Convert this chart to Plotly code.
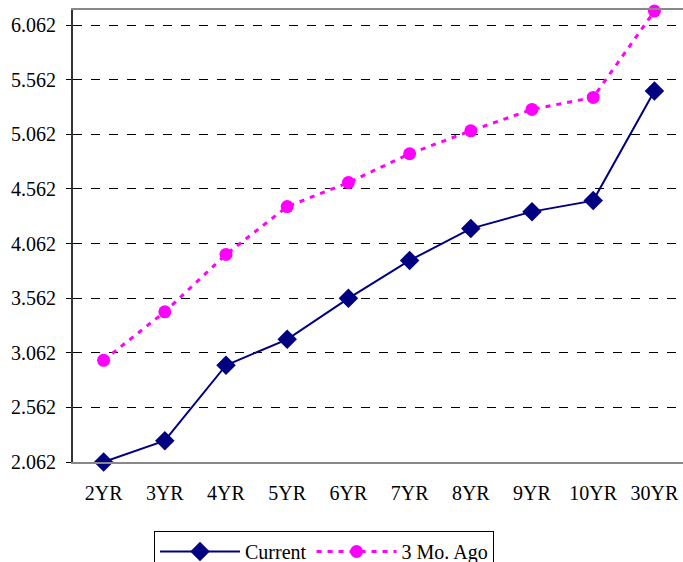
import plotly.graph_objects as go

categories = ["2YR", "3YR", "4YR", "5YR", "6YR", "7YR", "8YR", "9YR", "10YR", "30YR"]
current = [2.062, 2.257, 2.948, 3.185, 3.560, 3.907, 4.199, 4.354, 4.455, 5.459]
three_mo_ago = [2.993, 3.437, 3.962, 4.400, 4.620, 4.884, 5.094, 5.290, 5.400, 6.190]
y_ticks = [2.062, 2.562, 3.062, 3.562, 4.062, 4.562, 5.062, 5.562, 6.062]

FONT = "Times New Roman, Liberation Serif, serif"

fig = go.Figure()
fig.add_trace(go.Scatter(
    x=list(range(len(categories))), y=current, name="Current", mode="lines+markers",
    line=dict(color="#000080", width=2),
    marker=dict(symbol="diamond", size=15, color="#000080"),
    cliponaxis=False,
))
fig.add_trace(go.Scatter(
    x=list(range(len(categories))), y=three_mo_ago, name="3 Mo. Ago", mode="lines+markers",
    line=dict(color="#FF00FF", width=3, dash="5px,6px"),
    marker=dict(symbol="circle", size=13, color="#FF00FF"),
    cliponaxis=False,
))

H = 562
T = 10
paper_h = H - T
plot_bottom_px = 462
legend_top_px = 531

fig.update_layout(
    template="none",
    width=683, height=H,
    margin=dict(l=73, r=0, t=T, b=0, autoexpand=False),
    paper_bgcolor="white", plot_bgcolor="white",
    font=dict(family=FONT, size=20, color="black"),
    showlegend=True,
    legend=dict(
        orientation="h", x=(154 - 73) / 610, y=(H - legend_top_px) / paper_h,
        xanchor="left", yanchor="top",
        bordercolor="black", borderwidth=1, bgcolor="white",
        font=dict(family=FONT, size=20, color="black"),
        itemwidth=80,
    ),
    xaxis=dict(
        tickmode="array", tickvals=list(range(len(categories))), ticktext=categories,
        range=[-0.5, 9.467], showgrid=False, zeroline=False, automargin=False,
        showline=True, linecolor="#888888", linewidth=2, mirror=True,
        ticks="", ticklabelstandoff=12,
    ),
    yaxis=dict(
        domain=[(H - plot_bottom_px) / paper_h, 1], automargin=False,
        range=[2.062, 6.2], tickmode="array", tickvals=y_ticks,
        ticktext=[f"{v:.3f}" for v in y_ticks],
        showgrid=True, gridcolor="black", gridwidth=1, griddash="dash",
        zeroline=False, showline=True, linecolor="#333333", linewidth=2,
        ticks="outside", ticklen=5, tickcolor="black", tickwidth=1,
        ticklabelstandoff=6,
    ),
)

fig.write_html("out.html", config={"displayModeBar": False},
               post_script="document.body.style.margin='0px';document.body.style.overflow='hidden';")
